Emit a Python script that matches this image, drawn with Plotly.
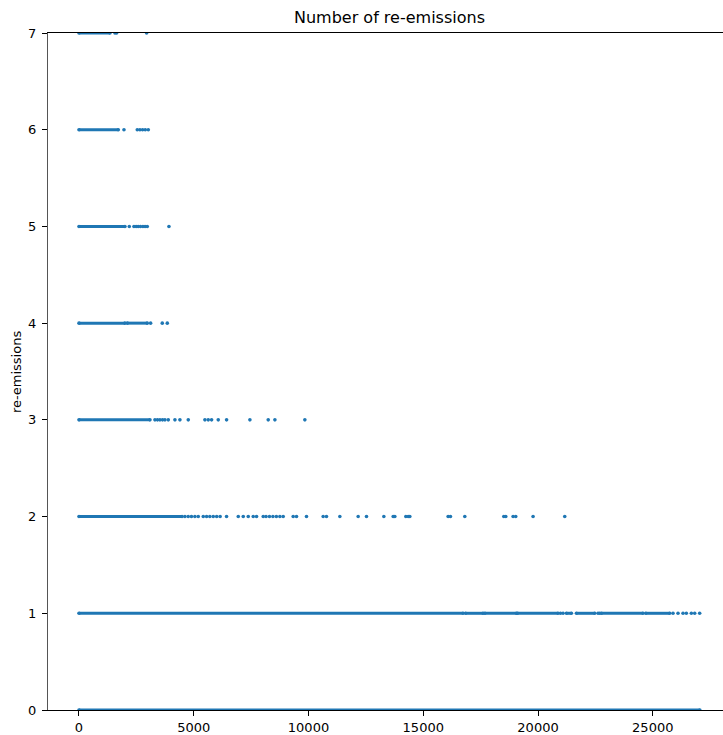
import plotly.graph_objects as go

# Re-emission count levels
levels = [0, 1, 2, 3, 4, 5, 6, 7]

# Dense runs of points (start, end) per level
runs_0 = [(0, 27050)]
runs_1 = [(0, 16737), (16841, 17608), (17681, 19062), (19105, 20874), (21238, 21456),
          (21674, 22472), (22763, 24575), (24693, 25738)]
runs_2 = [(0, 4490)]
runs_3 = [(0, 3092)]
runs_4 = [(0, 2003), (2105, 2975)]
runs_5 = [(0, 2003)]
runs_6 = [(0, 1713)]
runs_7 = [(0, 1350)]

# Isolated points per level
pts_0 = []
pts_1 = [20978, 21091, 22615, 22689, 25882, 26100, 26318, 26463, 26681, 26827, 27044]
pts_2 = [4616, 4760, 4900, 5050, 5197, 5415, 5560, 5700, 5850, 6000, 6150, 6430, 6940, 7157,
         7375, 7592, 7737, 8027, 8150, 8300, 8450, 8600, 8753, 8898, 9333, 9478, 9913, 10639,
         10784, 11366, 12164, 12527, 13283, 13690, 13762, 14241, 14343, 14415, 16084, 16186,
         16810, 18509, 18596, 18914, 19030, 19785, 21165]
pts_3 = [3310, 3420, 3528, 3640, 3745, 3890, 4181, 4398, 4761, 5487, 5632, 5778, 6068, 6431,
         7447, 8245, 8536, 9842]
pts_4 = [3121, 3629, 3847]
pts_5 = [2192, 2395, 2490, 2580, 2680, 2787, 2880, 2975, 3920]
pts_6 = [1960, 2540, 2656, 2772, 2888, 3020]
pts_7 = [1568, 1640, 2947]

all_runs = [runs_0, runs_1, runs_2, runs_3, runs_4, runs_5, runs_6, runs_7]
all_pts = [pts_0, pts_1, pts_2, pts_3, pts_4, pts_5, pts_6, pts_7]

x_ticks = [0, 5000, 10000, 15000, 20000, 25000]
y_ticks = [0, 1, 2, 3, 4, 5, 6, 7]

color = "#1f77b4"

lx, ly = [], []
mx, my = [], []
for lev, runs, pts in zip(levels, all_runs, all_pts):
    for a, b in runs:
        lx += [a, b, None]
        ly += [lev, lev, None]
        mx += [a, b]
        my += [lev, lev]
    for p in pts:
        mx.append(p)
        my.append(lev)

fig = go.Figure()
fig.add_trace(go.Scatter(x=lx, y=ly, mode="lines", line=dict(color=color, width=3),
                         hoverinfo="skip", showlegend=False))
fig.add_trace(go.Scatter(x=mx, y=my, mode="markers",
                         marker=dict(color=color, size=3.6, line=dict(width=0)),
                         showlegend=False))

font = dict(family="DejaVu Sans", size=13, color="#000000")

fig.update_layout(
    width=723, height=735,
    margin=dict(l=48, r=0, t=33, b=23),
    paper_bgcolor="white", plot_bgcolor="white",
    font=font,
    xaxis=dict(range=[-1350, 28060], tickvals=x_ticks, ticktext=[str(v) for v in x_ticks],
               showgrid=False, zeroline=False, showline=True, linecolor="#000000",
               linewidth=1, mirror=True, ticks="outside", ticklen=5, tickcolor="#000000",
               tickfont=font),
    yaxis=dict(range=[0, 7], tickvals=y_ticks, ticktext=[str(v) for v in y_ticks],
               showgrid=False, zeroline=False, showline=True, linecolor="#555555",
               linewidth=1.3, ticks="outside", ticklen=5, tickcolor="#000000",
               tickfont=font, ticklabelstandoff=3),
    annotations=[
        dict(text="Number of re-emissions", xref="paper", yref="paper", x=0.506, y=1,
             xanchor="center", yanchor="bottom", yshift=4, showarrow=False,
             font=dict(family="DejaVu Sans", size=16, color="#000000")),
        dict(text="re-emissions", xref="paper", yref="paper", x=-0.0467, y=0.5,
             xanchor="center", yanchor="middle", textangle=-90, showarrow=False,
             font=font),
    ],
)

fig.write_html("out.html")
